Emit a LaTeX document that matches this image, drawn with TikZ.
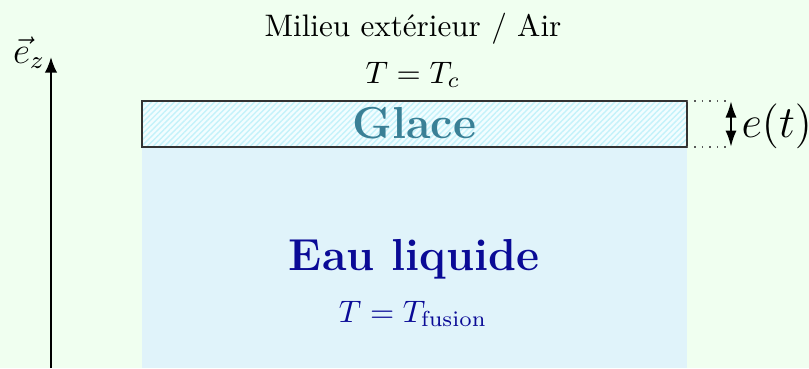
\documentclass[tikz,border=0pt]{standalone}
\usetikzlibrary{arrows.meta,patterns.meta}
\definecolor{bgcol}{RGB}{240,255,240}
\definecolor{eaucol}{RGB}{224,243,250}
\definecolor{glacebg}{RGB}{242,253,255}
\definecolor{hatchcol}{RGB}{196,242,250}
\definecolor{glacetxt}{RGB}{58,128,150}
\definecolor{eautxt}{RGB}{10,10,150}
\begin{document}
\begin{tikzpicture}[x=0.32138pt,y=-0.32138pt,
  lbl/.style={anchor=base,inner sep=0pt},
  thickarrow/.style={{Latex[length=5.3pt,width=3.6pt]}-{Latex[length=5.3pt,width=3.6pt]},line width=0.75pt},
  frame/.style={line width=0.6pt,draw=black!80},
  guide/.style={dotted,black!65,line width=0.4pt}]
\fill[bgcol] (0,0) rectangle (809,368);
\useasboundingbox (0,0) rectangle (809,368);
% regions
\coordinate (gnw) at (142,101);
\coordinate (gse) at (687,147);
\coordinate (gne) at (687,101);
\coordinate (wse) at (687,368);
\fill[eaucol] (142,147) rectangle (wse);
\fill[glacebg] (gnw) rectangle (gse);
\fill[pattern={Lines[angle=45,distance=1.3pt,line width=0.45pt]},pattern color=hatchcol] (gnw) rectangle (gse);
\draw[frame] (gnw) rectangle (gse);
% texts
\node[lbl] (air) at (413,36) {Milieu extérieur / Air};
\node[lbl] (tc) at (413,83) {$T=T_c$};
\node[lbl,text=glacetxt,font=\Large\bfseries] (glace) at (414.5,138) {Glace};
\node[lbl,text=eautxt,font=\Large\bfseries] (eau) at (414,270) {Eau liquide};
\node[lbl,text=eautxt] (tf) at (413,322) {$T=T_{\mathrm{fusion}}$};
% thickness
\coordinate (ta) at (731,101);
\coordinate (tb) at (731,147);
\draw[guide] (gne) -- (ta);
\draw[guide] (gse) -- (tb);
\draw[thickarrow] (ta) -- (tb);
\node[anchor=base west,inner sep=0pt,font=\Large] (et) at (741,137) {$e(t)$};
% axis
\coordinate (az0) at (51,368);
\coordinate (az1) at (51,57);
\draw[-{Latex[length=5pt,width=4pt]},line width=0.7pt] (az0) -- (az1);
\node[lbl,font=\large] (ez) at (29,63) {$\vec{e}_z$};
\end{tikzpicture}
\end{document}
